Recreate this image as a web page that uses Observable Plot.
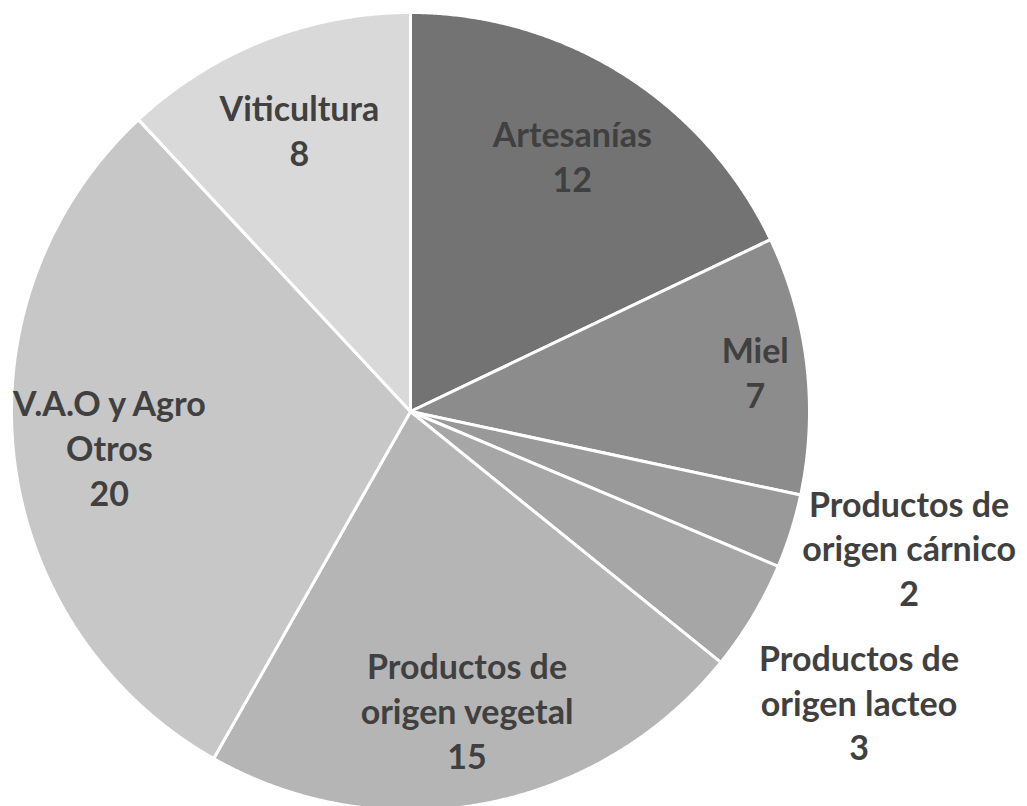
<!DOCTYPE html>
<html>
<head>
<meta charset="utf-8">
<script src="https://cdn.jsdelivr.net/npm/d3@7"></script>
<script src="https://cdn.jsdelivr.net/npm/@observablehq/plot@0.6"></script>
<style>
  html, body { margin: 0; padding: 0; background: #ffffff; }
  #chart svg { display: block; }
</style>
</head>
<body>
<div id="chart"></div>
<script>
// Data
const categories = [
  "Artesanías",
  "Miel",
  "Productos de origen cárnico",
  "Productos de origen lacteo",
  "Productos de origen vegetal",
  "V.A.O y Agro Otros",
  "Viticultura"
];
const labelTexts = [
  "Artesanías",
  "Miel",
  "Productos de\norigen cárnico",
  "Productos de\norigen lacteo",
  "Productos de\norigen vegetal",
  "V.A.O y Agro\nOtros",
  "Viticultura"
];
const values = [12, 7, 2, 3, 15, 20, 8];
const colors = ["#737373", "#8c8c8c", "#999999", "#a6a6a6", "#b5b5b5", "#c7c7c7", "#d9d9d9"];

// Build slices
const table = categories.map((c, i) => ({category: c, label: labelTexts[i], value: values[i], color: colors[i]}));
const arcs = d3.pie().sort(null).value(d => d.value)(table);

const polyPoints = [];
arcs.forEach((a, i) => {
  const n = Math.max(8, Math.ceil((a.endAngle - a.startAngle) / 0.005));
  polyPoints.push({k: i, x: 0, y: 0, color: a.data.color});
  for (let j = 0; j <= n; j++) {
    const t = a.startAngle + (a.endAngle - a.startAngle) * j / n;
    polyPoints.push({k: i, x: Math.sin(t), y: Math.cos(t), color: a.data.color});
  }
  polyPoints.push({k: i, x: 0, y: 0, color: a.data.color});
});

// Label placement: inside for large slices, outside for small ones
const total = d3.sum(values);
const labels = arcs.map(a => {
  const mid = (a.startAngle + a.endAngle) / 2;
  const span = a.endAngle - a.startAngle;
  const outside = a.data.value / total < 0.06;
  const r = outside ? 1.31 : (span < 0.7 ? 0.87 : 0.76);
  return {x: r * Math.sin(mid), y: r * Math.cos(mid), outside, text: a.data.label + "\n" + a.data.value};
});
// De-overlap the outside labels vertically
const outs = labels.filter(d => d.outside).sort((a, b) => b.y - a.y);
const minGap = 0.386;
for (let i = 1; i < outs.length; i++) {
  const gap = outs[i - 1].y - outs[i].y;
  if (gap < minGap) {
    const push = (minGap - gap) / 2;
    outs[i - 1].y += push;
    outs[i].y -= push;
  }
}

const chart = Plot.plot({
  width: 1027,
  height: 806,
  x: {domain: [-1, 1], range: [11, 809], axis: null},
  y: {domain: [-1, 1], range: [810, 12], axis: null},
  color: {type: "identity"},
  style: {background: "#ffffff"},
  marks: [
    Plot.line(polyPoints, {
      x: "x", y: "y", z: "k",
      fill: "color",
      stroke: "#ffffff",
      strokeWidth: 3,
      strokeLinejoin: "round"
    }),
    Plot.text(labels, {
      x: "x", y: "y", text: "text",
      fill: "#404040",
      fontSize: 34,
      fontWeight: "bold",
      fontFamily: "Lato, 'Open Sans', sans-serif",
      lineHeight: 1.32,
      textAnchor: "middle"
    })
  ]
});
document.getElementById("chart").appendChild(chart);
</script>
</body>
</html>
